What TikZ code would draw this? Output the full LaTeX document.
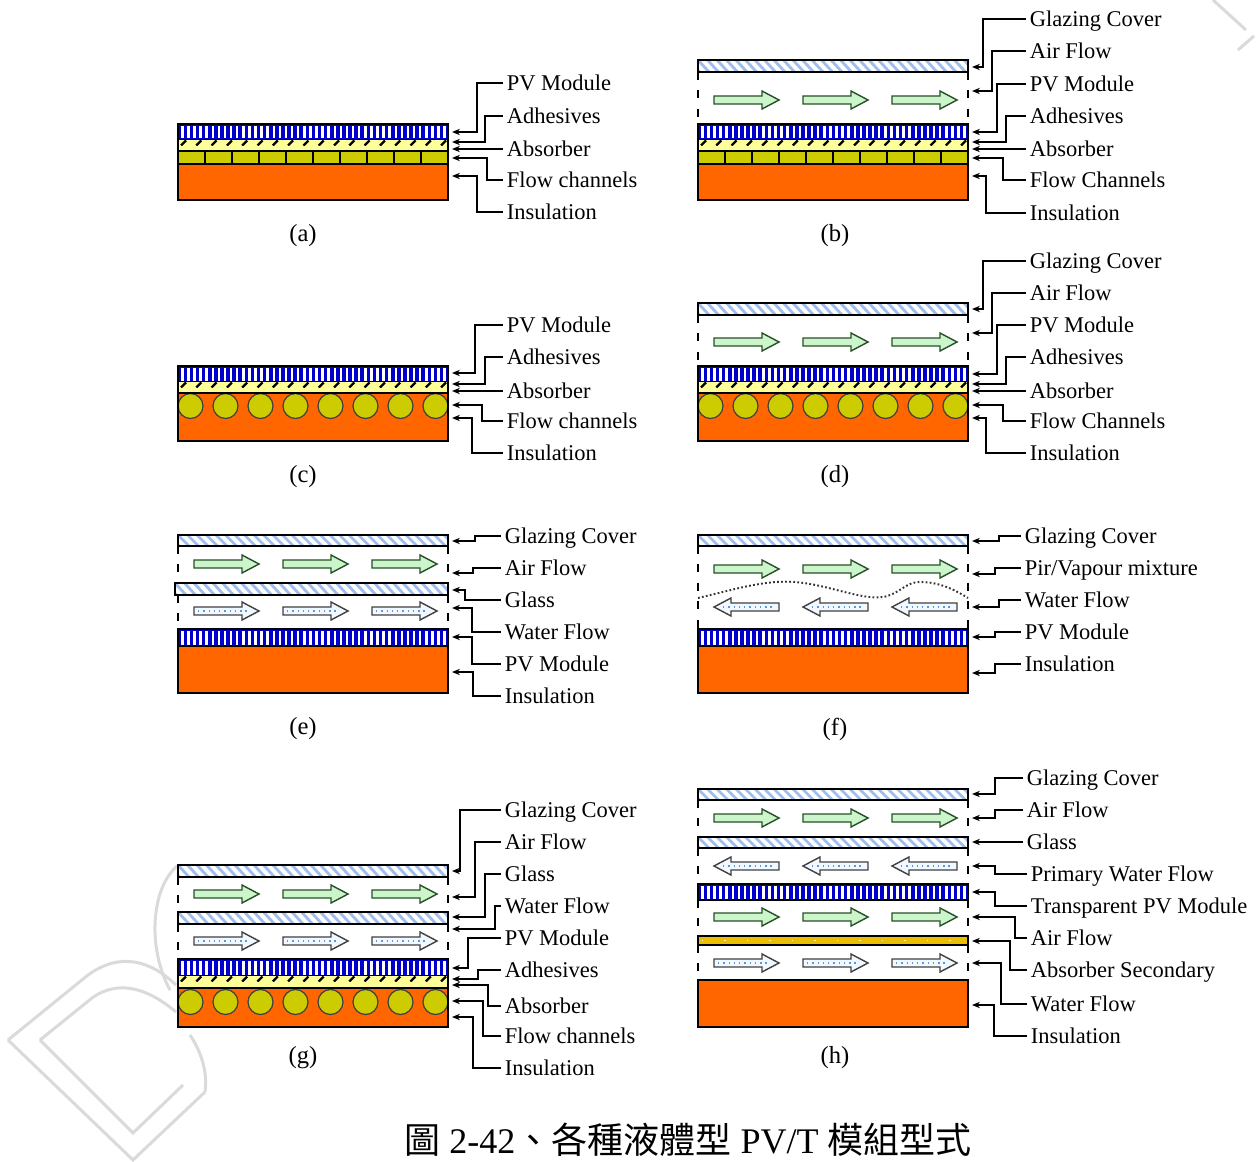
\documentclass[tikz,border=0pt]{standalone}
\usepackage{fontspec}
\setmainfont{Liberation Serif}
\newfontfamily\cjk{Noto Sans CJK TC}
\usetikzlibrary{arrows.meta}

\definecolor{pvblue}{RGB}{0,0,204}
\definecolor{insorange}{RGB}{255,102,0}
\definecolor{chanolive}{RGB}{204,204,0}
\definecolor{adhyellow}{RGB}{255,255,153}
\definecolor{hatchblue}{RGB}{160,190,235}
\definecolor{airfill}{RGB}{204,245,204}
\definecolor{airedge}{RGB}{40,80,40}
\definecolor{waterfill}{RGB}{242,248,255}
\definecolor{waterdot}{RGB}{90,150,220}
\definecolor{absgold}{RGB}{235,190,0}
\definecolor{markgray}{RGB}{218,218,218}

\tikzset{
  box/.style={draw=black, line width=1pt},
  lead/.style={line width=0.75pt, -{Stealth[length=4.5pt,width=3.6pt]}},
  lbl/.style={anchor=west, inner xsep=2pt, inner ysep=0pt, text height=8.5pt,
              text depth=0pt, font=\fontsize{12.8}{14}\selectfont},
  sub/.style={font=\fontsize{14}{16}\selectfont},
  gapline/.style={line width=0.9pt, dash pattern=on 4.5pt off 6pt},
  wmark/.style={draw=markgray, line width=1.7pt},
  airright/.pic={
    \draw[airedge, fill=airfill, line width=0.8pt]
      (0,-4) -- (48,-4) -- (48,-9) -- (65,0) -- (48,9) -- (48,4) -- (0,4) -- cycle;},
  waterright/.pic={
    \draw[black!75, fill=waterfill, line width=0.8pt]
      (0,-4) -- (48,-4) -- (48,-9) -- (65,0) -- (48,9) -- (48,4) -- (0,4) -- cycle;
    \draw[waterdot, line width=1pt, dash pattern=on 0.8pt off 2.2pt] (4,0) -- (56,0);},
  waterleft/.pic={
    \draw[black!75, fill=waterfill, line width=0.8pt]
      (65,-4) -- (17,-4) -- (17,-9) -- (0,0) -- (17,9) -- (17,4) -- (65,4) -- cycle;
    \draw[waterdot, line width=1pt, dash pattern=on 0.8pt off 2.2pt] (9,0) -- (61,0);},
}

% PV module: blue band with white vertical stripes
\newcommand\pvmod[3]{%
  \fill[pvblue] (#1,#2) rectangle (#1+270,#3);
  \foreach \k in {0,...,43} \fill[white] (#1+3+\k*6.1,#2+2) rectangle (#1+5.5+\k*6.1,#3-1.5);
  \draw[box] (#1,#2) rectangle (#1+270,#3);}
% adhesive band with slanted marks
\newcommand\adhband[3]{%
  \fill[adhyellow] (#1,#2) rectangle (#1+270,#3);
  \foreach \k in {0,...,17} \draw[line width=1.3pt] (#1+3+\k*15.3,#3-0.5) -- (#1+8+\k*15.3,#2+0.5);}
% flow channel blocks
\newcommand\chanblocks[3]{%
  \fill[chanolive] (#1,#2) rectangle (#1+270,#3);
  \foreach \k in {1,...,9} \draw[line width=1pt] (#1+\k*27,#2) -- (#1+\k*27,#3);
  \draw[box] (#1,#2) rectangle (#1+270,#3);}
% insulation
\newcommand\insul[3]{%
  \fill[insorange] (#1,#2) rectangle (#1+270,#3);
  \draw[box] (#1,#2) rectangle (#1+270,#3);}
% glazing / glass sheet with hatching
\newcommand\glazing[4]{%
  \begin{scope}
    \clip (#1,#3) rectangle (#2,#4);
    \foreach \k in {-2,...,29} \draw[hatchblue, line width=1.6pt] (#1+\k*9.5,#3) -- ++(11,#4-#3);
  \end{scope}
  \draw[box] (#1,#3) rectangle (#2,#4);}
% open sides of a flow gap
\newcommand\gapsides[3]{%
  \draw[gapline] (#1,#2) -- (#1,#3);
  \draw[gapline] (#1+270,#2) -- (#1+270,#3);}
% rows of flow arrows
\newcommand\airrow[2]{\foreach \k in {0,1,2} \pic at (#1+16+\k*89,#2) {airright};}
\newcommand\waterrowR[2]{\foreach \k in {0,1,2} \pic at (#1+16+\k*89,#2) {waterright};}
\newcommand\waterrowL[2]{\foreach \k in {0,1,2} \pic at (#1+16+\k*89,#2) {waterleft};}
% absorber with rectangular channels underneath
\newcommand\blockstack[2]{%
  \pvmod{#1}{#2}{#2+16}
  \adhband{#1}{#2+16}{#2+22}
  \fill[adhyellow] (#1,#2+22) rectangle (#1+270,#2+27);
  \chanblocks{#1}{#2+27}{#2+40}
  \insul{#1}{#2+40}{#2+76}
  \draw[box] (#1,#2) rectangle (#1+270,#2+76);}
% absorber with round tubes embedded in insulation
\newcommand\tubestack[7]{%
  \pvmod{#1}{#2}{#3}
  \adhband{#1}{#3}{#4}
  \fill[adhyellow] (#1,#4) rectangle (#1+270,#5);
  \fill[insorange] (#1,#5) rectangle (#1+270,#6);
  \foreach \k in {0,...,7}
    \draw[fill=chanolive, draw=black!75, line width=0.7pt] (#1+12.5+\k*35,#7) circle[radius=0.25cm];
  \draw[line width=1.4pt] (#1,#5) -- (#1+270,#5);
  \draw[box] (#1,#2) rectangle (#1+270,#6);}
% label with elbow leader ending in an arrow
\newcommand\callout[6]{%
  \node[lbl] (#1) at (#2,#3) {#4};
  \coordinate (#1-tip) at #6;
  \draw[lead] (#1.west) -- ++(#5,0) |- (#1-tip);}

\begin{document}
\begin{tikzpicture}[x=0.02cm,y=-0.02cm]
\fill[white] (0,0) rectangle (1258,1162);
\useasboundingbox (0,0) rectangle (1258,1162);

% faint background mark
\draw[wmark] (8,1040) -- (133,1160) -- (205,1092);
\draw[wmark] (40,1040) -- (133,1133) -- (183,1085);
\draw[wmark] (8,1040) -- (88,975) .. controls (120,952) and (150,960) .. (176,985);
\draw[wmark] (40,1040) -- (92,998) .. controls (120,978) and (150,990) .. (176,1012);
\draw[wmark] (177,866) .. controls (150,890) and (148,950) .. (170,990);
\draw[wmark] (205,1092) .. controls (208,1070) and (200,1050) .. (190,1035);
\draw[wmark] (1213,0) -- (1246,30);
\draw[wmark] (1238,50) -- (1254,36);

% ---------------- (a)
\blockstack{178}{124}
\callout{a1}{503}{83}{PV Module}{-26}{(452,132)}
\callout{a2}{503}{116}{Adhesives}{-18}{(452,142)}
\callout{a3}{503}{149}{Absorber}{0}{(452,149)}
\callout{a4}{503}{180}{Flow channels}{-16}{(452,158)}
\callout{a5}{503}{212}{Insulation}{-26}{(452,176)}
\node[sub] (la) at (303,236) {(a)};

% ---------------- (b)
\glazing{698}{968}{60}{72}
\gapsides{698}{72}{124}
\airrow{698}{100}
\blockstack{698}{124}
\callout{b1}{1026}{19}{Glazing Cover}{-43}{(972,67)}
\callout{b2}{1026}{51}{Air Flow}{-34}{(972,91)}
\callout{b3}{1026}{84}{PV Module}{-29}{(972,132)}
\callout{b4}{1026}{116}{Adhesives}{-20}{(972,142)}
\callout{b5}{1026}{149}{Absorber}{0}{(972,149)}
\callout{b6}{1026}{180}{Flow Channels}{-23}{(972,158)}
\callout{b7}{1026}{213}{Insulation}{-40}{(972,176)}
\node[sub] (lb) at (835,236) {(b)};

% ---------------- (c)
\tubestack{178}{366}{382}{388}{393}{441}{406}
\callout{c1}{503}{325}{PV Module}{-28}{(452,373)}
\callout{c2}{503}{357}{Adhesives}{-18}{(452,384)}
\callout{c3}{503}{391}{Absorber}{0}{(452,391)}
\callout{c4}{503}{421}{Flow channels}{-21}{(452,405)}
\callout{c5}{503}{453}{Insulation}{-31}{(452,418)}
\node[sub] (lc) at (303,477) {(c)};

% ---------------- (d)
\glazing{698}{968}{303}{315}
\gapsides{698}{315}{366}
\airrow{698}{342}
\tubestack{698}{366}{382}{388}{393}{441}{406}
\callout{d1}{1026}{261}{Glazing Cover}{-43}{(972,309)}
\callout{d2}{1026}{293}{Air Flow}{-34}{(972,333)}
\callout{d3}{1026}{325}{PV Module}{-29}{(972,374)}
\callout{d4}{1026}{357}{Adhesives}{-20}{(972,384)}
\callout{d5}{1026}{391}{Absorber}{0}{(972,391)}
\callout{d6}{1026}{421}{Flow Channels}{-23}{(972,405)}
\callout{d7}{1026}{453}{Insulation}{-40}{(972,418)}
\node[sub] (ld) at (835,477) {(d)};

% ---------------- (e)
\glazing{178}{448}{535}{546}
\gapsides{178}{546}{583}
\airrow{178}{564}
\glazing{175}{448}{583}{595}
\gapsides{178}{595}{629}
\waterrowR{178}{611}
\pvmod{178}{629}{646}
\insul{178}{646}{693}
\draw[line width=1.4pt] (178,646) -- (448,646);
\callout{e1}{501}{536}{Glazing Cover}{-26}{(452,541)}
\callout{e2}{501}{568}{Air Flow}{-28}{(452,573)}
\callout{e3}{501}{600}{Glass}{-36}{(452,590)}
\callout{e4}{501}{632}{Water Flow}{-29}{(452,608)}
\callout{e5}{501}{664}{PV Module}{-29}{(452,637)}
\callout{e6}{501}{696}{Insulation}{-28}{(452,672)}
\node[sub] (le) at (303,729) {(e)};

% ---------------- (f)
\glazing{698}{968}{535}{546}
\gapsides{698}{546}{629}
\airrow{698}{569}
\draw[black!80, line width=1.1pt, dash pattern=on 1pt off 1.3pt]
  (698,598) .. controls (740,588) and (765,580) .. (795,582)
  .. controls (830,585) and (860,600) .. (883,597)
  .. controls (900,594) and (905,582) .. (920,582)
  .. controls (940,582) and (955,590) .. (968,598);
\waterrowL{698}{607}
\pvmod{698}{629}{646}
\insul{698}{646}{693}
\draw[line width=1.4pt] (698,646) -- (968,646);
\callout{f1}{1021}{536}{Glazing Cover}{-22}{(972,541)}
\callout{f2}{1021}{568}{Pir/Vapour mixture}{-26}{(972,574)}
\callout{f3}{1021}{600}{Water Flow}{-22}{(972,607)}
\callout{f4}{1021}{632}{PV Module}{-26}{(972,637)}
\callout{f5}{1021}{664}{Insulation}{-26}{(972,673)}
\node[sub] (lf) at (835,729) {(f)};

% ---------------- (g)
\glazing{178}{448}{865}{877}
\gapsides{178}{877}{912}
\airrow{178}{894}
\glazing{178}{448}{912}{924}
\gapsides{178}{924}{959}
\waterrowR{178}{941}
\tubestack{178}{959}{976}{982}{988}{1027}{1002}
\callout{g1}{501}{810}{Glazing Cover}{-41}{(452,871)}
\callout{g2}{501}{842}{Air Flow}{-26}{(452,897)}
\callout{g3}{501}{874}{Glass}{-16}{(452,917)}
\callout{g4}{501}{906}{Water Flow}{-6}{(452,929)}
\callout{g5}{501}{938}{PV Module}{-33}{(452,968)}
\callout{g6}{501}{970}{Adhesives}{-23}{(452,979)}
\callout{g7}{501}{1006}{Absorber}{-13}{(452,985)}
\callout{g8}{501}{1036}{Flow channels}{-18}{(452,1001)}
\callout{g9}{501}{1068}{Insulation}{-28}{(452,1017)}
\node[sub] (lg) at (303,1058) {(g)};

% ---------------- (h)
\glazing{698}{968}{789}{800}
\gapsides{698}{800}{837}
\airrow{698}{818}
\glazing{698}{968}{837}{848}
\gapsides{698}{848}{884}
\waterrowL{698}{866}
\pvmod{698}{884}{900}
\gapsides{698}{900}{936}
\airrow{698}{917}
\fill[absgold] (698,936) rectangle (968,945);
\draw[white!80!absgold, line width=0.8pt, dash pattern=on 0.8pt off 12pt] (702,940.5) -- (966,940.5);
\draw[box] (698,936) rectangle (968,945);
\gapsides{698}{945}{980}
\waterrowR{698}{963}
\insul{698}{980}{1027}
\callout{h1}{1023}{778}{Glazing Cover}{-28}{(972,794)}
\callout{h2}{1023}{810}{Air Flow}{-28}{(972,818)}
\callout{h3}{1023}{842}{Glass}{0}{(972,842)}
\callout{h4}{1027}{874}{Primary Water Flow}{-32}{(972,866)}
\callout{h5}{1027}{906}{Transparent PV Module}{-32}{(972,892)}
\callout{h6}{1027}{938}{Air Flow}{-12}{(972,917)}
\callout{h7}{1027}{970}{Absorber Secondary}{-17}{(972,941)}
\callout{h8}{1027}{1004}{Water Flow}{-26}{(972,963)}
\callout{h9}{1027}{1036}{Insulation}{-33}{(972,1005)}
\node[sub] (lh) at (835,1058) {(h)};

% caption
\node[font=\fontsize{20.5}{22}\selectfont, inner sep=0pt] (cap) at (688,1140)
  {{\cjk 圖} 2-42{\cjk 、各種液體型} PV/T {\cjk 模組型式}};
\end{tikzpicture}
\end{document}
